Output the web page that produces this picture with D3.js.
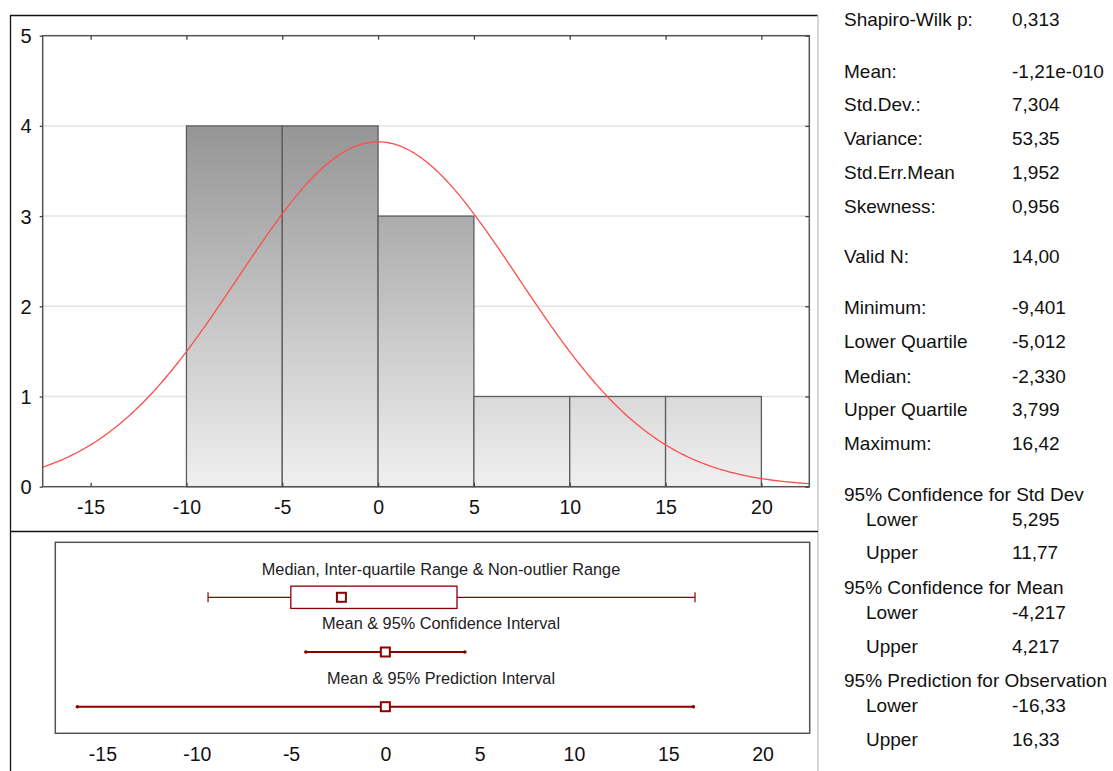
<!DOCTYPE html>
<html>
<head>
<meta charset="utf-8">
<script src="https://cdn.jsdelivr.net/npm/d3@7"></script>
<style>
  html, body { margin: 0; padding: 0; background: #fff; }
  svg { display: block; font-family: "Liberation Sans", Arial, sans-serif; }
</style>
</head>
<body>
<svg id="chart" width="1113" height="771"></svg>
<script>
// Histogram bins (lower edge, upper edge, count)
const binStarts = [-10, -5, 0, 5, 10, 15];
const binWidth = 5;
const binCounts = [4, 4, 3, 1, 1, 1];

// Descriptive statistics
const nValid = 14;
const meanValue = -1.21e-10;
const stdDev = 7.304;
const minValue = -9.401;
const lowerQuartile = -5.012;
const medianValue = -2.330;
const upperQuartile = 3.799;
const maxValue = 16.42;
const ciMean = [-4.217, 4.217];
const predInterval = [-16.33, 16.33];

const xTicks = [-15, -10, -5, 0, 5, 10, 15, 20];
const yTicks = [0, 1, 2, 3, 4, 5];

const boxRowTitles = [
  "Median, Inter-quartile Range & Non-outlier Range",
  "Mean & 95% Confidence Interval",
  "Mean & 95% Prediction Interval"
];

// Summary table rows
const statLabels = [
  "Shapiro-Wilk p:", "Mean:", "Std.Dev.:", "Variance:", "Std.Err.Mean", "Skewness:",
  "Valid N:", "Minimum:", "Lower Quartile", "Median:", "Upper Quartile", "Maximum:",
  "95% Confidence for Std Dev", "Lower", "Upper",
  "95% Confidence for Mean", "Lower", "Upper",
  "95% Prediction for Observation", "Lower", "Upper"
];
const statValues = [
  "0,313", "-1,21e-010", "7,304", "53,35", "1,952", "0,956",
  "14,00", "-9,401", "-5,012", "-2,330", "3,799", "16,42",
  "", "5,295", "11,77",
  "", "-4,217", "4,217",
  "", "-16,33", "16,33"
];
const statIndent = [0,0,0,0,0,0, 0,0,0,0,0,0, 0,1,1, 0,1,1, 0,1,1];
const statRowY = [18, 70, 103, 137, 171, 205, 255, 306, 340, 375, 408, 442,
                  493, 518, 551, 586, 611, 645, 679, 704, 738];

const svg = d3.select("#chart");
const plainNum = d => String(d);

// ---------- outer frame ----------
svg.append("line").attr("x1", 10.5).attr("x2", 10.5).attr("y1", 15).attr("y2", 771)
  .attr("stroke", "#111").attr("stroke-width", 1.3);
svg.append("line").attr("x1", 10).attr("x2", 818).attr("y1", 15.5).attr("y2", 15.5)
  .attr("stroke", "#111").attr("stroke-width", 1.3);
svg.append("line").attr("x1", 818).attr("x2", 818).attr("y1", 15).attr("y2", 771)
  .attr("stroke", "#c8c8c8").attr("stroke-width", 1.5);
svg.append("line").attr("x1", 10).attr("x2", 818).attr("y1", 531.5).attr("y2", 531.5)
  .attr("stroke", "#111").attr("stroke-width", 1.3);

// ---------- histogram ----------
const plot = { left: 42.7, right: 809.3, top: 35.7, bottom: 486.7 };
const x = d3.scaleLinear().domain([-17.5, 22.5]).range([plot.left, plot.right]);
const y = d3.scaleLinear().domain([0, 5]).range([plot.bottom, plot.top]);

const defs = svg.append("defs");
const grad = defs.append("linearGradient").attr("id", "barFill")
  .attr("gradientUnits", "userSpaceOnUse")
  .attr("x1", 0).attr("x2", 0).attr("y1", y(4)).attr("y2", y(0));
grad.append("stop").attr("offset", "0%").attr("stop-color", "#959595");
grad.append("stop").attr("offset", "100%").attr("stop-color", "#f0f0f0");

defs.append("clipPath").attr("id", "plotClip").append("rect")
  .attr("x", plot.left).attr("y", plot.top)
  .attr("width", plot.right - plot.left).attr("height", plot.bottom - plot.top);

// horizontal gridlines
svg.append("g").selectAll("line").data(yTicks.filter(d => d > 0 && d < 5)).join("line")
  .attr("x1", plot.left).attr("x2", plot.right)
  .attr("y1", d => y(d)).attr("y2", d => y(d))
  .attr("stroke", "#e3e3e3").attr("stroke-width", 1.5);

// bars
svg.append("g").selectAll("rect").data(binStarts.map((s, i) => ({ s, c: binCounts[i] }))).join("rect")
  .attr("x", d => x(d.s)).attr("width", d => x(d.s + binWidth) - x(d.s))
  .attr("y", d => y(d.c)).attr("height", d => y(0) - y(d.c))
  .attr("fill", "url(#barFill)").attr("stroke", "#5e5e5e").attr("stroke-width", 1.3);

// fitted normal curve, scaled to counts per bin
const sqrt2pi = Math.sqrt(2 * Math.PI);
const curvePts = d3.range(-17.5, 22.51, 0.1).map(v => [v,
  nValid * binWidth * Math.exp(-0.5 * ((v - meanValue) / stdDev) ** 2) / (stdDev * sqrt2pi)]);
svg.append("path").datum(curvePts)
  .attr("clip-path", "url(#plotClip)")
  .attr("d", d3.line().x(d => x(d[0])).y(d => y(d[1])))
  .attr("fill", "none").attr("stroke", "#ff4d4d").attr("stroke-width", 1.3);

// plot frame
svg.append("rect").attr("x", plot.left).attr("y", plot.top)
  .attr("width", plot.right - plot.left).attr("height", plot.bottom - plot.top)
  .attr("fill", "none").attr("stroke", "#555").attr("stroke-width", 1.5);

// axes
const axisBottom = svg.append("g").attr("transform", `translate(0,${plot.bottom})`)
  .call(d3.axisBottom(x).tickValues(xTicks).tickFormat(plainNum).tickSize(-4).tickPadding(13));
const axisTop = svg.append("g").attr("transform", `translate(0,${plot.top})`)
  .call(d3.axisTop(x).tickValues(xTicks).tickSize(-4).tickFormat(""));
const axisLeft = svg.append("g").attr("transform", `translate(${plot.left},0)`)
  .call(d3.axisLeft(y).tickValues(yTicks).tickFormat(plainNum).tickSize(3).tickPadding(8));
const axisRight = svg.append("g").attr("transform", `translate(${plot.right},0)`)
  .call(d3.axisRight(y).tickValues(yTicks).tickSize(-4).tickFormat(""));
[axisBottom, axisTop, axisLeft, axisRight].forEach(a => {
  a.select(".domain").remove();
  a.selectAll(".tick line").attr("stroke", "#444").attr("stroke-width", 1.3);
  a.selectAll("text").attr("font-size", 19.5).attr("fill", "#111")
    .attr("font-family", "Liberation Sans, Arial, sans-serif");
});
axisBottom.selectAll("text").attr("dy", "0.71em");
axisLeft.selectAll("text").attr("dy", "0.35em").attr("font-size", 20);

// ---------- box / interval panel ----------
const box = { left: 55.3, right: 809.7, top: 542.3, bottom: 733.3 };
const xb = d3.scaleLinear().domain([-17.5, 22.5]).range([box.left, box.right]);
const darkRed = "#8b0000";

svg.append("rect").attr("x", box.left).attr("y", box.top)
  .attr("width", box.right - box.left).attr("height", box.bottom - box.top)
  .attr("fill", "none").attr("stroke", "#555").attr("stroke-width", 1.5);

const titleY = [569, 623, 678];
svg.append("g").selectAll("text").data(boxRowTitles).join("text")
  .attr("x", 441).attr("y", (d, i) => titleY[i]).attr("dy", "0.35em")
  .attr("text-anchor", "middle").attr("font-size", 16.3).attr("fill", "#222")
  .text(d => d);

// row 1: median, quartile box, non-outlier whiskers
const r1 = 597.3, boxH = 22.3;
const g1 = svg.append("g");
g1.append("line").attr("x1", xb(minValue)).attr("x2", xb(lowerQuartile))
  .attr("y1", r1).attr("y2", r1).attr("stroke", darkRed).attr("stroke-width", 1.2);
g1.append("line").attr("x1", xb(upperQuartile)).attr("x2", xb(maxValue))
  .attr("y1", r1).attr("y2", r1).attr("stroke", darkRed).attr("stroke-width", 1.2);
[minValue, maxValue].forEach(v => g1.append("line")
  .attr("x1", xb(v)).attr("x2", xb(v)).attr("y1", r1 - 5).attr("y2", r1 + 5)
  .attr("stroke", darkRed).attr("stroke-width", 1.2));
g1.append("rect").attr("x", xb(lowerQuartile)).attr("y", r1 - boxH / 2)
  .attr("width", xb(upperQuartile) - xb(lowerQuartile)).attr("height", boxH)
  .attr("fill", "#fff").attr("stroke", darkRed).attr("stroke-width", 1.3);
g1.append("rect").attr("x", xb(medianValue) - 4.5).attr("y", r1 - 4.5)
  .attr("width", 9).attr("height", 9)
  .attr("fill", "#fff").attr("stroke", darkRed).attr("stroke-width", 2);

// rows 2 and 3: mean with interval
function meanInterval(rowY, lo, hi) {
  const g = svg.append("g");
  g.append("line").attr("x1", xb(lo)).attr("x2", xb(hi)).attr("y1", rowY).attr("y2", rowY)
    .attr("stroke", darkRed).attr("stroke-width", 2);
  [lo, hi].forEach(v => g.append("circle").attr("cx", xb(v)).attr("cy", rowY).attr("r", 1.8)
    .attr("fill", darkRed));
  g.append("rect").attr("x", xb(meanValue) - 4.5).attr("y", rowY - 4.5)
    .attr("width", 9).attr("height", 9)
    .attr("fill", "#fff").attr("stroke", darkRed).attr("stroke-width", 2);
}
meanInterval(652, ciMean[0], ciMean[1]);
meanInterval(706.7, predInterval[0], predInterval[1]);

const axisBox = svg.append("g").attr("transform", `translate(0,${box.bottom})`)
  .call(d3.axisBottom(xb).tickValues(xTicks).tickFormat(plainNum).tickSize(0).tickPadding(14));
axisBox.select(".domain").remove();
axisBox.selectAll("text").attr("font-size", 19.5).attr("fill", "#111").attr("dy", "0.71em")
  .attr("font-family", "Liberation Sans, Arial, sans-serif");

// ---------- summary statistics table ----------
const rows = statLabels.map((l, i) => ({ l, v: statValues[i], ind: statIndent[i], y: statRowY[i] }));
const tbl = svg.append("g").attr("font-size", 19).attr("fill", "#111");
tbl.selectAll("text.lbl").data(rows).join("text").attr("class", "lbl")
  .attr("x", d => d.ind ? 866 : 844).attr("y", d => d.y + 1).attr("dy", "0.35em")
  .text(d => d.l);
tbl.selectAll("text.val").data(rows.filter(d => d.v)).join("text").attr("class", "val")
  .attr("x", 1012).attr("y", d => d.y + 1).attr("dy", "0.35em")
  .text(d => d.v);
</script>
</body>
</html>
